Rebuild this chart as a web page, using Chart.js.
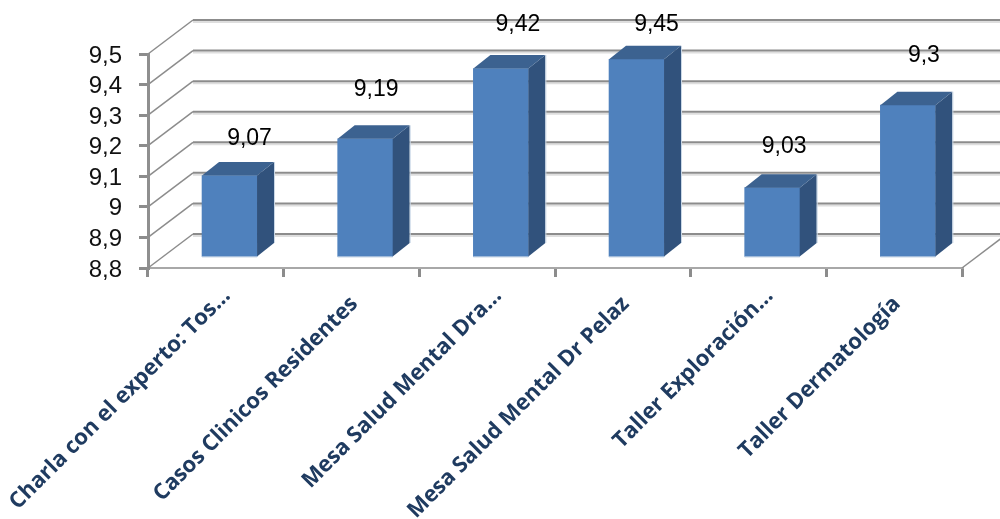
<!DOCTYPE html>
<html>
<head>
<meta charset="utf-8">
<style>html,body{margin:0;padding:0;background:#fff;overflow:hidden}canvas{display:block}</style>
<script src="https://cdn.jsdelivr.net/npm/chart.js@4"></script>
</head>
<body>
<canvas id="chart" width="1000" height="519"></canvas>
<script>
// the nbsp on the full labels pulls them down the slope, the cut ones sit higher in the original
const categories = ['Charla con el experto: Tos…', 'Casos Clinicos Residentes\u00a0\u00a0', 'Mesa Salud Mental Dra…', 'Mesa Salud Mental Dr Pelaz\u00a0\u00a0', 'Taller Exploración…', 'Taller Dermatología\u00a0\u00a0'];
const scores = [9.07, 9.19, 9.42, 9.45, 9.03, 9.3];
const scoreLabels = ['9,07', '9,19', '9,42', '9,45', '9,03', '9,3'];
const yTickLabels = ['8,8', '8,9', '9', '9,1', '9,2', '9,3', '9,4', '9,5'];

// fake 3d: offsets of the back wall and of the bars from the front plane
const wall = { dx: 45, dy: -34 };
const barShift = { dx: 13.7, dy: -10 };
const depth = { dx: 17, dy: -13.5 };
// the labels were placed by hand in the original
const labelNudge = [[20, -37], [11, -49], [17, -44], [20, -35], [12, -41], [16, -49]];

const threeD = {
  id: 'threeD',
  beforeDatasetsDraw(chart) {
    const { ctx, chartArea, scales: { y } } = chart;
    ctx.save();
    y.ticks.forEach(t => {
      const py = y.getPixelForValue(t.value);
      // soft shadow under each line
      ctx.strokeStyle = '#dedede';
      ctx.lineWidth = 2;
      ctx.beginPath();
      ctx.moveTo(chartArea.left + wall.dx, py + wall.dy + 2);
      ctx.lineTo(1000, py + wall.dy + 2);
      ctx.stroke();
      ctx.strokeStyle = '#8c8c8c';
      ctx.lineWidth = 1.5;
      ctx.beginPath();
      ctx.moveTo(chartArea.left, py);
      ctx.lineTo(chartArea.left + wall.dx, py + wall.dy);
      ctx.stroke();
      ctx.lineWidth = 2;
      ctx.beginPath();
      ctx.moveTo(chartArea.left + wall.dx, py + wall.dy);
      ctx.lineTo(1000, py + wall.dy);
      ctx.stroke();
    });
    // floor edge on the right
    ctx.lineWidth = 1.5;
    ctx.beginPath();
    ctx.moveTo(chartArea.right, chartArea.bottom);
    ctx.lineTo(chartArea.right + wall.dx, chartArea.bottom + wall.dy);
    ctx.stroke();
    ctx.restore();
    ctx.save();
    ctx.translate(barShift.dx, barShift.dy);
  },
  afterDatasetsDraw(chart) {
    const { ctx } = chart;
    const bars = chart.getDatasetMeta(0).data;
    bars.forEach((bar, i) => {
      const l = bar.x - bar.width / 2, r = bar.x + bar.width / 2;
      ctx.fillStyle = '#31527c';
      ctx.beginPath();
      ctx.moveTo(r, bar.y);
      ctx.lineTo(r + depth.dx, bar.y + depth.dy);
      ctx.lineTo(r + depth.dx, bar.base + depth.dy);
      ctx.lineTo(r, bar.base);
      ctx.closePath();
      ctx.fill();
      ctx.fillStyle = '#3c6290';
      ctx.beginPath();
      ctx.moveTo(l, bar.y);
      ctx.lineTo(l + depth.dx, bar.y + depth.dy);
      ctx.lineTo(r + depth.dx, bar.y + depth.dy);
      ctx.lineTo(r, bar.y);
      ctx.closePath();
      ctx.fill();
      // pale rim along the bottom and the back edge
      ctx.strokeStyle = '#c9d7e6';
      ctx.lineWidth = 1;
      ctx.beginPath();
      ctx.moveTo(l, bar.base + 0.5);
      ctx.lineTo(r, bar.base + 0.5);
      ctx.moveTo(r + depth.dx + 0.5, bar.y + depth.dy);
      ctx.lineTo(r + depth.dx + 0.5, bar.base + depth.dy);
      ctx.stroke();
    });
    ctx.restore();
    ctx.save();
    ctx.font = '23px "Liberation Sans"';
    ctx.fillStyle = '#000';
    ctx.textAlign = 'center';
    ctx.textBaseline = 'middle';
    bars.forEach((bar, i) => {
      ctx.fillText(scoreLabels[i], bar.x + barShift.dx + labelNudge[i][0], bar.y + barShift.dy + labelNudge[i][1]);
    });
    ctx.restore();
  }
};

new Chart(document.getElementById('chart'), {
  type: 'bar',
  data: {
    labels: categories,
    datasets: [{
      data: scores,
      base: 8.8,
      backgroundColor: '#4f81bd',
      barThickness: 55,
      clip: false
    }]
  },
  options: {
    responsive: false,
    animation: false,
    layout: { padding: { top: 54, right: 38, left: 0, bottom: 0 } },
    plugins: { legend: { display: false }, tooltip: { enabled: false } },
    scales: {
      x: {
        afterFit(s) { s.height = 251; s.paddingLeft = 0; s.paddingRight = 0; },
        border: { color: '#a8a8a8', width: 2 },
        grid: { drawOnChartArea: false, color: '#8c8c8c', lineWidth: 3, tickLength: 9, offset: true },
        ticks: {
          autoSkip: false,
          maxRotation: 45,
          minRotation: 45,
          labelOffset: 11,
          padding: 6,
          color: '#1f3b60',
          font: { family: 'Open Sans', size: 22, weight: '700' }
        }
      },
      y: {
        min: 8.8,
        max: 9.5,
        afterFit(s) { s.width = 148; s.paddingTop = 0; s.paddingBottom = 0; },
        border: { color: '#8f8f8f', width: 3 },
        grid: { drawOnChartArea: false, color: '#8c8c8c', lineWidth: 3, tickLength: 9 },
        ticks: {
          autoSkip: false,
          stepSize: 0.1,
          padding: 17,
          labelOffset: 2,
          color: '#111',
          font: { family: 'Liberation Sans', size: 24 },
          callback: (v, i) => yTickLabels[i]
        }
      }
    }
  },
  plugins: [threeD]
});
</script>
</body>
</html>
